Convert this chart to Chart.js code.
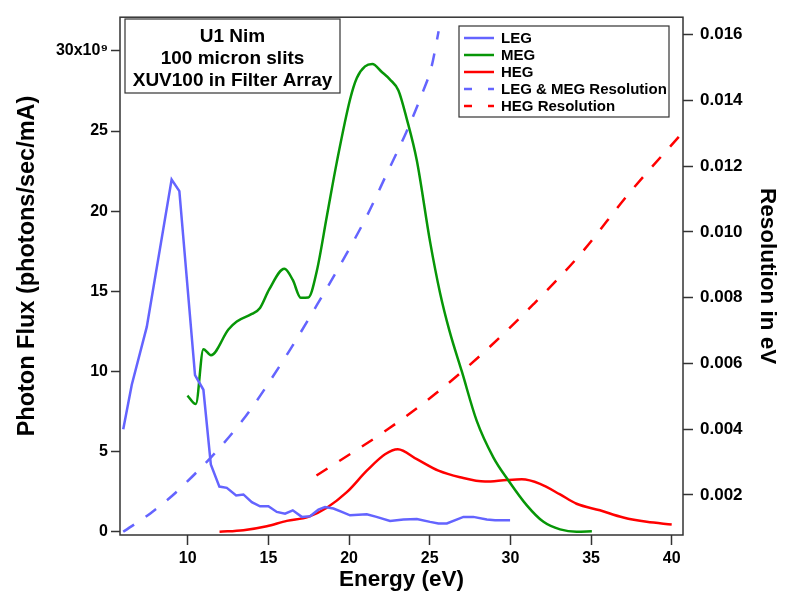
<!DOCTYPE html>
<html>
<head>
<meta charset="utf-8">
<script src="https://cdn.jsdelivr.net/npm/chart.js@4.4.0/dist/chart.umd.min.js"></script>
<style>
  html, body { margin: 0; padding: 0; background: #fff; }
  #wrap { width: 785px; height: 593px; }
</style>
</head>
<body>
<div id="wrap"><canvas id="fluxChart" width="785" height="593"></canvas></div>
<script>
// photon flux values are in units of 10^9 photons/sec/mA
var legEnergy = [6.0, 6.53, 7.46, 9.0, 9.48, 10.45, 10.97, 11.43, 11.96, 12.42, 13.0, 13.45, 13.97, 14.48, 15.0, 15.52, 16.03, 16.51, 17.07, 17.58, 18.1, 18.51, 19.03, 19.55, 20.06, 21.1, 21.7, 22.54, 23.37, 24.2, 25.02, 25.54, 26.06, 27.09, 27.7, 28.54, 29.05, 29.98];
var legFlux = [6.4, 9.17, 12.78, 21.97, 21.25, 9.78, 8.86, 4.2, 2.82, 2.74, 2.27, 2.33, 1.85, 1.59, 1.59, 1.24, 1.13, 1.34, 0.93, 0.97, 1.38, 1.54, 1.45, 1.24, 1.03, 1.09, 0.93, 0.68, 0.77, 0.8, 0.62, 0.52, 0.52, 0.93, 0.93, 0.77, 0.72, 0.72];

var megEnergy = [9.98, 10.5, 10.97, 11.44, 12.52, 13.04, 13.97, 14.48, 15.04, 15.99, 16.51, 17.0, 17.48, 18.0, 18.62, 19.24, 20.06, 20.48, 20.99, 21.44, 22.03, 22.54, 23.06, 23.58, 24.2, 25.02, 25.64, 26.22, 26.99, 27.92, 28.95, 29.88, 31.02, 32.05, 33.08, 34.1, 35.05];
var megFlux = [8.5, 7.97, 11.39, 11.02, 12.62, 13.12, 13.59, 13.96, 15.1, 16.41, 15.71, 14.6, 14.62, 16.27, 19.67, 23.06, 26.97, 28.31, 29.03, 29.18, 28.68, 28.21, 27.53, 25.74, 23.16, 18.1, 14.9, 12.55, 10.0, 6.9, 4.63, 3.2, 1.65, 0.62, 0.15, 0.0, 0.04];

var hegEnergy = [11.97, 13.45, 14.9, 16.14, 17.48, 18.62, 19.86, 21.1, 22.23, 23.02, 24.2, 25.54, 26.88, 28.43, 29.78, 30.71, 31.84, 33.08, 34.1, 35.55, 37.0, 38.45, 40.0];
var hegFlux = [0.0, 0.1, 0.35, 0.68, 0.93, 1.5, 2.47, 3.81, 4.84, 5.15, 4.53, 3.81, 3.4, 3.13, 3.23, 3.27, 2.99, 2.33, 1.75, 1.34, 0.89, 0.62, 0.46];

var lmResEnergy = [6.0, 7.66, 9.58, 13.35, 16.14, 18.0, 19.63, 21.1, 22.34, 23.58, 24.59, 25.1, 25.55];
var lmRes = [0.00088, 0.00143, 0.00222, 0.00424, 0.00626, 0.00777, 0.00915, 0.01048, 0.01177, 0.01307, 0.01428, 0.0150, 0.0161];

var hegResEnergy = [17.98, 22.44, 25.54, 28.54, 31.43, 34.32, 37.4, 40.64];
var hegRes = [0.00259, 0.00401, 0.00515, 0.00642, 0.0078, 0.00931, 0.0112, 0.0130];

var xTicks = [10, 15, 20, 25, 30, 35, 40];
var fluxTicks = [0, 5, 10, 15, 20, 25, 30];
var resTicks = [0.002, 0.004, 0.006, 0.008, 0.010, 0.012, 0.014, 0.016];
var boxLines = ['U1 Nim', '100 micron slits', 'XUV100 in Filter Array'];
var fluxTitle = 'Photon Flux (photons/sec/mA)';

var FONT = '"Liberation Sans", Arial, "DejaVu Sans", sans-serif';
var AXIS = '#333';

function pairs(xs, ys) {
  return xs.map(function (x, i) { return { x: x, y: ys[i] }; });
}

function fixedTicks(list) {
  return function (scale) {
    scale.ticks = list.map(function (v) { return { value: v }; });
  };
}

// frame, left title, note box and legend drawn over the plot
var decorPlugin = {
  id: 'decor',
  afterDatasetsDraw: function (chart) {
    var ctx = chart.ctx;
    var a = chart.chartArea;
    ctx.save();
    ctx.strokeStyle = AXIS;
    ctx.lineWidth = 1.5;
    ctx.strokeRect(a.left, a.top, a.right - a.left, a.bottom - a.top);

    // left axis title (sits a bit above the plot centre in the original)
    ctx.save();
    ctx.translate(28, 266);
    ctx.rotate(-Math.PI / 2);
    ctx.fillStyle = '#000';
    ctx.font = 'bold 23.5px ' + FONT;
    ctx.textAlign = 'center';
    ctx.textBaseline = 'middle';
    ctx.fillText(fluxTitle, 0, 0);
    ctx.restore();

    // note box
    ctx.fillStyle = '#fff';
    ctx.fillRect(125, 19, 215, 74);
    ctx.lineWidth = 1.2;
    ctx.strokeRect(125, 19, 215, 74);
    ctx.fillStyle = '#000';
    ctx.font = 'bold 19px ' + FONT;
    ctx.textAlign = 'center';
    ctx.textBaseline = 'middle';
    boxLines.forEach(function (t, i) {
      ctx.fillText(t, 232.5, 37 + i * 22);
    });

    // legend
    ctx.fillStyle = '#fff';
    ctx.fillRect(459, 26, 210, 91);
    ctx.strokeStyle = AXIS;
    ctx.strokeRect(459, 26, 210, 91);
    ctx.font = 'bold 15px ' + FONT;
    ctx.textAlign = 'left';
    chart.data.datasets.forEach(function (ds, i) {
      var y = 38 + i * 17;
      ctx.beginPath();
      ctx.strokeStyle = ds.borderColor;
      ctx.lineWidth = 2.5;
      ctx.setLineDash(ds.borderDash ? [8, 16] : []);
      ctx.moveTo(464, y);
      ctx.lineTo(494, y);
      ctx.stroke();
      ctx.setLineDash([]);
      ctx.fillStyle = '#000';
      ctx.fillText(ds.label, 501, y + 1);
    });
    ctx.restore();
  }
};

var lineBase = { pointRadius: 0, borderWidth: 2.5, fill: false, cubicInterpolationMode: 'monotone' };

var ctx = document.getElementById('fluxChart').getContext('2d');
var fluxChart = new Chart(ctx, {
  type: 'line',
  data: {
    datasets: [
      Object.assign({ label: 'LEG', data: pairs(legEnergy, legFlux), borderColor: '#6464ff', yAxisID: 'y' }, lineBase, { cubicInterpolationMode: 'default', tension: 0 }),
      Object.assign({ label: 'MEG', data: pairs(megEnergy, megFlux), borderColor: '#079607', yAxisID: 'y' }, lineBase),
      Object.assign({ label: 'HEG', data: pairs(hegEnergy, hegFlux), borderColor: '#ff0000', yAxisID: 'y' }, lineBase),
      Object.assign({ label: 'LEG & MEG Resolution', data: pairs(lmResEnergy, lmRes), borderColor: '#6464ff', borderDash: [13, 14], yAxisID: 'y1' }, lineBase),
      Object.assign({ label: 'HEG Resolution', data: pairs(hegResEnergy, hegRes), borderColor: '#ff0000', borderDash: [13, 14], yAxisID: 'y1' }, lineBase)
    ]
  },
  options: {
    responsive: false,
    devicePixelRatio: 1,
    animation: false,
    layout: { padding: { top: 12, left: 0, right: 0, bottom: 0 } },
    plugins: { legend: { display: false }, tooltip: { enabled: false } },
    scales: {
      x: {
        type: 'linear', min: 5.8, max: 40.7,
        afterBuildTicks: fixedTicks(xTicks),
        afterFit: function (s) { s.height = 58; },
        border: { display: false },
        grid: { drawOnChartArea: false, tickLength: 10, tickColor: AXIS, tickWidth: 1.5 },
        ticks: { autoSkip: false, maxRotation: 0, padding: 4, color: '#000', font: { family: FONT, size: 16, weight: 'bold' } },
        title: { display: true, text: 'Energy (eV)', color: '#000', padding: { top: 0, bottom: 0 }, font: { family: FONT, size: 22.5, weight: 'bold' } }
      },
      y: {
        type: 'linear', position: 'left', min: -0.2, max: 32.1,
        afterBuildTicks: fixedTicks(fluxTicks),
        afterFit: function (s) { s.width = 120; },
        border: { display: false },
        grid: { drawOnChartArea: false, tickLength: 9, tickColor: AXIS, tickWidth: 1.5 },
        ticks: {
          autoSkip: false, padding: 3, color: '#000', font: { family: FONT, size: 16, weight: 'bold' },
          callback: function (v) { return v === 30 ? '30x10\u2079' : String(v); }
        },
        title: { display: false }
      },
      y1: {
        type: 'linear', position: 'right', min: 0.00078, max: 0.01653,
        afterBuildTicks: fixedTicks(resTicks),
        afterFit: function (s) { s.width = 102; },
        border: { display: false },
        grid: { drawOnChartArea: false, tickLength: 10, tickColor: AXIS, tickWidth: 1.5 },
        ticks: {
          autoSkip: false, padding: 7, color: '#000', font: { family: FONT, size: 17, weight: 'bold' },
          callback: function (v) { return v.toFixed(3); }
        },
        title: { display: true, text: 'Resolution in eV', color: '#000', padding: { top: 4, bottom: 0 }, font: { family: FONT, size: 22.5, weight: 'bold' } }
      }
    }
  },
  plugins: [decorPlugin]
});
</script>
</body>
</html>
